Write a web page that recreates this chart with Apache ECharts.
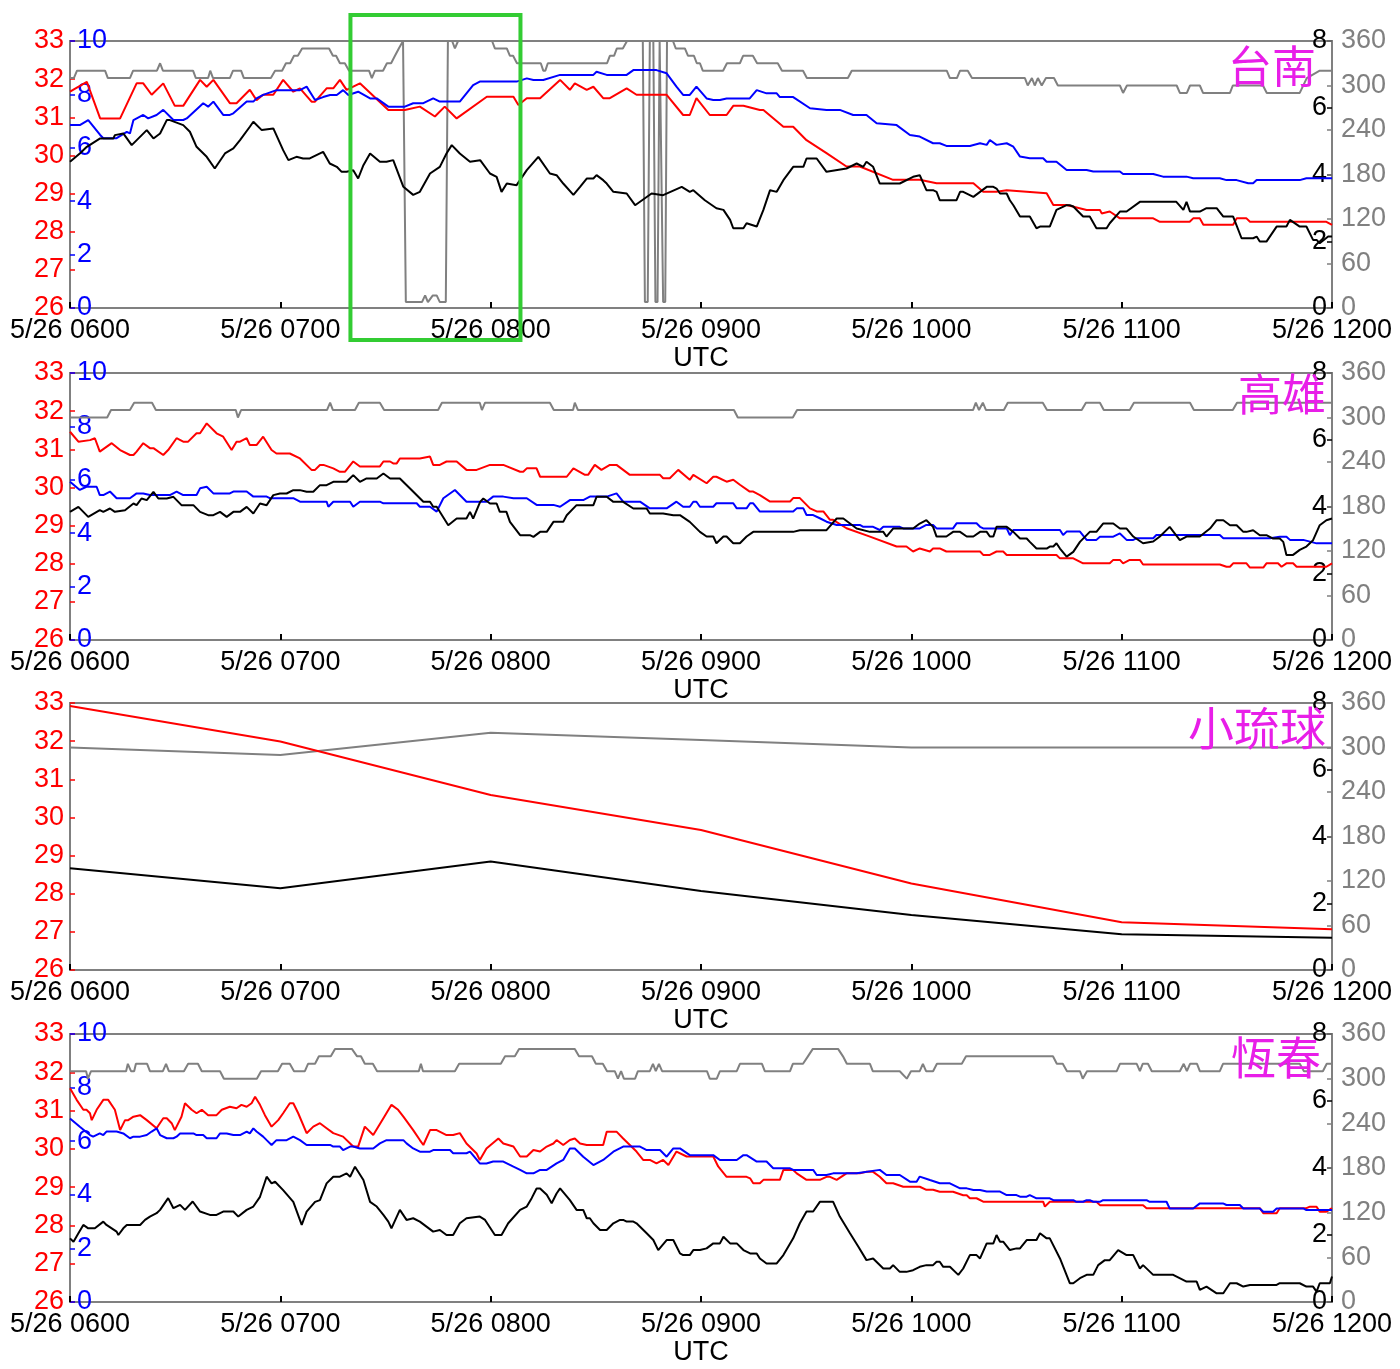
<!DOCTYPE html>
<html>
<head>
<meta charset="utf-8">
<script src="https://cdn.jsdelivr.net/npm/echarts/dist/echarts.min.js"></script>
<style>
  html, body { margin: 0; padding: 0; background: #ffffff; }
  #chart { width: 1400px; height: 1369px; }
</style>
</head>
<body>
<div id="chart"></div>
<script>
// Time is in minutes after 5/26 0600 UTC.
const tickLabels = ['5/26 0600', '5/26 0700', '5/26 0800', '5/26 0900', '5/26 1000', '5/26 1100', '5/26 1200'];
const stationNames = ['台南', '高雄', '小琉球', '恆春'];
// Time window outlined in green on the first station.
const highlightWindow = [80, 128.5];

// ---- 台南 ----
const tainanTemp = [[0,31.67],[4.8,31.93],[8.6,30.97],[14.3,30.97],[19,31.89],[20.9,31.89],[23.3,31.59],[26.6,31.89],[29.9,31.3],[32.3,31.3],[37.1,31.98],[39,31.8],[40.9,31.98],[45.6,31.37],[47.5,31.37],[51.3,31.72],[53.2,31.45],[55.1,31.59],[58,31.59],[60.8,31.98],[63.7,31.67],[65.6,31.76],[68.9,31.41],[69.9,31.41],[73.2,31.76],[75.1,31.76],[77,31.98],[78.9,31.72],[82.7,31.89],[90.8,31.19],[95.5,31.19],[99.8,31.28],[104.1,31.02],[106.9,31.28],[110.3,30.97],[118.9,31.54],[126.5,31.54],[127.9,31.32],[130.3,31.5],[134.1,31.5],[139.8,31.98],[142.6,31.72],[144,31.89],[147.4,31.72],[149.3,31.8],[152.1,31.5],[154,31.5],[158.8,31.76],[161.6,31.59],[170.2,31.59],[174.9,31.06],[176.8,31.06],[178.7,31.5],[182.5,31.06],[187.3,31.06],[189.2,31.3],[192.1,31.3],[196.8,31.19],[197.8,31.19],[203.5,30.75],[206.3,30.75],[210.1,30.4],[215.8,30.06],[221.5,29.71],[225.3,29.71],[234.8,29.36],[242.4,29.36],[247.2,29.27],[257.7,29.27],[260.5,29.05],[264.3,29.05],[267.2,29.09],[278.6,29.01],[280.5,28.7],[284.3,28.7],[290,28.57],[293.8,28.57],[294.3,28.48],[296.6,28.53],[299.5,28.35],[309,28.35],[310.9,28.26],[319.4,28.26],[320.4,28.35],[322.3,28.35],[323.3,28.18],[331.8,28.18],[332.8,28.35],[335.6,28.35],[336.6,28.26],[358.4,28.26],[360,28.18]];
const tainanAux = [[0,6.85],[2.8,6.85],[5.2,7.04],[8.6,6.48],[9.5,6.36],[13.3,6.36],[16.2,6.6],[17.1,6.54],[18.1,7.04],[20.9,7.23],[22.3,7.1],[24.7,7.23],[26.6,7.42],[29.5,7.04],[32.3,7.04],[33.3,7.1],[38,7.67],[39.4,7.54],[40.9,7.73],[43.7,7.23],[45.6,7.23],[46.6,7.29],[50.4,7.73],[52.3,7.73],[53.2,7.85],[55.1,7.98],[58.9,8.16],[65.6,8.16],[67.5,8.29],[69.9,7.79],[72.2,7.9],[74.2,7.98],[76.1,7.98],[77.9,8.16],[79.4,7.98],[82.2,8.1],[85.6,7.85],[87.5,7.85],[90.8,7.54],[95.5,7.54],[97.9,7.67],[100.8,7.67],[103.6,7.85],[105.5,7.73],[111.2,7.73],[115,8.35],[116.9,8.48],[127.4,8.48],[130.3,8.6],[132.2,8.54],[135,8.54],[139.8,8.73],[149.3,8.73],[150.2,8.85],[153.1,8.73],[158.8,8.73],[160.7,8.91],[167.3,8.91],[170.2,8.79],[173,8.29],[174.9,7.98],[176.8,7.98],[178.7,8.29],[181.6,7.85],[183.5,7.79],[185.4,7.79],[187.3,7.85],[193.9,7.85],[195.9,8.16],[198.7,8.04],[201.6,8.04],[202.5,7.9],[206.3,7.9],[211.1,7.48],[215.8,7.42],[219.6,7.42],[223.4,7.23],[227.2,7.23],[230.1,6.92],[235.8,6.85],[239.6,6.48],[242.4,6.42],[246.2,6.17],[248.1,6.17],[250,6.07],[256.7,6.07],[259.6,6.17],[261.5,6.11],[262.4,6.29],[264.3,6.11],[267.2,6.17],[269.1,6.04],[271,5.67],[273.8,5.61],[277.6,5.61],[278.6,5.48],[281.4,5.48],[284.3,5.17],[290,5.17],[291.9,5.11],[299.5,5.11],[300.4,5.02],[309,5.02],[311.8,4.92],[318.5,4.92],[320.4,4.86],[328,4.86],[329.9,4.79],[332.8,4.79],[336.1,4.67],[337.5,4.67],[338.5,4.79],[350.8,4.79],[352.7,4.86],[360,4.86]];
const tainanWind = [[0,4.38],[2.8,4.63],[4.8,4.83],[8.6,5.08],[12.4,5.08],[12.8,5.18],[15.2,5.23],[17.6,4.88],[18.1,4.93],[21.9,5.33],[23.8,5.08],[25.7,5.23],[27.6,5.63],[28.5,5.63],[32.3,5.48],[34.2,5.28],[36.1,4.83],[39,4.53],[41.3,4.18],[44.2,4.63],[46.6,4.78],[48.5,5.03],[51.3,5.43],[52.3,5.58],[54.7,5.33],[58,5.38],[60.8,4.73],[62.3,4.43],[64.6,4.53],[66.5,4.48],[68.4,4.48],[72.2,4.68],[74.1,4.33],[76.1,4.23],[77.5,4.08],[78.9,4.08],[80.8,4.13],[82.2,3.88],[83.7,4.28],[85.6,4.63],[88.4,4.38],[90.3,4.38],[92.2,4.43],[95.1,3.63],[97.9,3.39],[99.8,3.48],[102.7,4.03],[105.5,4.23],[107.4,4.63],[108.9,4.88],[111.2,4.63],[114.1,4.38],[117,4.43],[119.8,4.03],[121.7,3.93],[123.1,3.48],[124.6,3.73],[127.4,3.68],[130.3,4.13],[133.6,4.53],[136.9,4.03],[138.8,3.98],[140.7,3.73],[143.6,3.39],[145.5,3.63],[147.4,3.88],[149.3,3.88],[150.2,3.98],[152.1,3.83],[153.1,3.73],[155,3.48],[158.8,3.43],[161.2,3.08],[165.9,3.43],[169.2,3.38],[174.5,3.63],[176.8,3.48],[177.8,3.53],[181.1,3.23],[184.4,2.99],[186.4,2.94],[188.3,2.64],[189.2,2.39],[192.1,2.39],[193,2.54],[195.9,2.44],[197.8,2.94],[199.7,3.53],[201.6,3.48],[203.5,3.83],[206.3,4.23],[209.2,4.23],[210.1,4.48],[213,4.48],[215.8,4.08],[221.5,4.18],[224.4,4.33],[226.3,4.23],[227.2,4.38],[229.1,4.23],[231,3.73],[236.7,3.73],[240.5,3.93],[242.4,3.98],[244.3,3.53],[246.2,3.53],[247.2,3.48],[248.1,3.23],[252.9,3.23],[253.9,3.48],[254.8,3.48],[257.7,3.33],[261.5,3.63],[263.4,3.63],[264.3,3.58],[265.3,3.43],[267.2,3.43],[268.1,3.23],[269.1,3.08],[271,2.74],[273.8,2.74],[275.7,2.39],[276.7,2.44],[279.5,2.44],[281.4,2.94],[284.3,3.08],[285.2,3.08],[286.2,3.04],[289,2.74],[290.9,2.74],[292.8,2.39],[295.7,2.39],[296.6,2.54],[299.5,2.89],[301.4,2.89],[305.2,3.18],[315.6,3.18],[317.6,2.94],[318.5,3.18],[319.5,2.89],[322.3,2.89],[324.2,2.99],[327.1,2.99],[329,2.74],[331.8,2.74],[334.2,2.09],[337.5,2.09],[338.5,2.14],[339.4,1.99],[341.3,1.99],[344.2,2.44],[347,2.44],[348,2.64],[350.8,2.44],[352.7,2.44],[354.6,2.04],[355.6,2.04],[356.5,1.94],[358.9,2.14],[360,2.14]];
const tainanDir = [[0,310],[1.1,310],[2,320],[10,320],[10.8,310],[17.1,310],[18,320],[24.8,320],[25.7,330],[26.5,320],[35.1,320],[35.9,310],[39.4,310],[40,320],[40.8,310],[45.6,310],[46.5,320],[48.8,320],[49.6,310],[57.3,310],[58.5,320],[60.5,320],[61.6,330],[62.8,330],[63.9,340],[65,340],[66.2,350],[73.9,350],[75,340],[75.9,340],[77,330],[78.4,330],[79.6,320],[85.3,320],[86.1,310],[87,320],[89.3,320],[90.4,330],[91.6,330],[92.7,340],[93.8,350],[95,360],[95.8,8],[100.4,8],[101.3,17],[102.1,8],[103.5,17],[104.6,17],[105.5,8],[107.2,8],[107.8,360],[109,360],[109.8,350],[110.7,360],[120.4,360],[121.2,350],[124.6,350],[125.5,340],[126.4,340],[127.5,330],[134.3,330],[135,320],[135.6,320],[136.3,330],[153.2,330],[154,340],[155.2,340],[156,350],[157.7,350],[158.9,360],[163.4,360],[164,8],[164.8,8],[165.4,360],[166.4,360],[167,8],[167.6,8],[168.2,360],[168.7,360],[169.2,8],[169.8,8],[170.3,360],[172,360],[172.8,350],[175.4,350],[176.3,340],[178,340],[178.8,330],[179.7,330],[180.5,320],[186.3,320],[187.4,330],[191.1,330],[192,340],[194.8,340],[196,330],[201.9,330],[203.1,320],[209.1,320],[210.2,310],[221.9,310],[223,320],[250.1,320],[251,310],[253,310],[253.9,320],[256.1,320],[257.3,310],[272.4,310],[273.2,300],[274.4,310],[275.2,300],[276.1,310],[277.2,300],[278.4,310],[280.7,310],[281.8,300],[299.5,300],[300.4,290],[301.5,300],[315.7,300],[316.6,290],[318.6,290],[319.5,300],[322.3,300],[323.2,290],[330.9,290],[331.7,300],[340.3,300],[341.4,290],[350.8,290],[352.8,310],[356.5,320],[360,320]];

// ---- 高雄 ----
const kaohsiungTemp = [[0,31.46],[2.4,31.2],[5.7,31.24],[7.1,31.29],[8.5,30.94],[11.9,31.16],[14.3,30.98],[17.1,30.85],[18.1,30.85],[19,30.94],[20.9,31.16],[22.8,31.03],[23.8,31.03],[26.6,30.85],[28,30.98],[30.4,31.29],[32.3,31.2],[33.7,31.2],[36.1,31.42],[37.1,31.42],[39,31.68],[41.8,31.42],[43.7,31.33],[46.1,30.98],[47.5,31.2],[48.5,31.2],[50.4,31.29],[51.3,31.11],[53.2,31.11],[55.1,31.33],[57.5,30.98],[58.9,30.89],[62.7,30.89],[65.6,30.76],[68.9,30.46],[69.9,30.46],[71.3,30.59],[72.3,30.59],[75.1,30.5],[77,30.41],[78.4,30.41],[80.8,30.68],[82.7,30.55],[88.4,30.55],[89.4,30.68],[91.3,30.68],[92.2,30.63],[93.2,30.63],[94.1,30.76],[99.8,30.76],[102.7,30.81],[103.6,30.59],[105.5,30.59],[107.4,30.68],[110.3,30.68],[113.1,30.46],[116,30.46],[119.8,30.59],[123.6,30.59],[128.4,30.41],[129.3,30.41],[130.3,30.5],[133.1,30.5],[134.1,30.28],[141.7,30.28],[143.6,30.5],[146.9,30.33],[147.8,30.33],[149.7,30.59],[150.2,30.59],[151.6,30.46],[154,30.59],[155.9,30.59],[159.7,30.33],[168.3,30.33],[169.2,30.24],[171.1,30.24],[173.5,30.46],[176.8,30.2],[177.8,30.33],[181.6,30.11],[183.5,30.28],[184.4,30.28],[187.3,30.15],[189.2,30.2],[191.1,30.07],[193.9,29.89],[194.9,29.89],[196.8,29.8],[199.7,29.63],[205.4,29.63],[206.3,29.72],[208.2,29.72],[211.1,29.45],[213,29.37],[214.9,29.37],[216.8,29.15],[217.7,29.15],[221.5,28.93],[228.2,28.71],[235.8,28.45],[238.6,28.45],[240.5,28.32],[242.4,28.4],[245.3,28.32],[246.2,28.4],[248.1,28.4],[250,28.32],[259.6,28.32],[260.5,28.23],[262.4,28.23],[264.3,28.32],[266.2,28.32],[267.2,28.23],[281.4,28.23],[282.4,28.14],[286.2,28.14],[289,28.01],[296.6,28.01],[297.6,28.1],[299.5,28.1],[300.4,28.01],[302.3,28.1],[305.2,28.1],[306.1,27.98],[328,27.98],[329.9,27.92],[330.9,27.92],[331.8,28.01],[335.6,28.01],[336.6,27.9],[340.4,27.9],[341.3,28.01],[344.6,28.01],[345.6,27.92],[347,28.01],[348.9,28.01],[349.9,27.92],[358.4,27.92],[360,28.01]];
const kaohsiungAux = [[0,5.93],[2.8,5.62],[4.7,5.74],[7.6,5.74],[8.5,5.43],[9.5,5.43],[11.4,5.56],[13.3,5.31],[17.1,5.31],[19,5.49],[20.9,5.49],[22.8,5.43],[28.5,5.43],[30.4,5.56],[32.3,5.43],[36.1,5.43],[37.1,5.68],[39,5.74],[40.9,5.49],[45.6,5.49],[46.6,5.56],[50.4,5.56],[52.3,5.37],[56.1,5.37],[57,5.31],[63.7,5.31],[65.6,5.18],[73.2,5.18],[73.7,4.99],[75.1,5.18],[79.9,5.18],[80.8,4.99],[82.7,5.18],[88.4,5.18],[89.4,5.12],[98.9,5.12],[99.8,4.99],[102.7,4.99],[104.6,4.81],[106.5,5.31],[109.8,5.62],[113.1,5.18],[118.8,5.18],[120.7,5.37],[123.6,5.37],[126.5,5.31],[130.3,5.31],[133.1,5.06],[137.9,5.06],[139.8,4.99],[142.6,5.24],[146.4,5.24],[148.3,5.37],[153.1,5.37],[155.9,5.49],[157.8,5.18],[162.6,5.18],[165.4,4.93],[170.2,4.93],[173,5.18],[174.9,4.99],[176.8,4.99],[177.8,5.18],[178.7,5.18],[179.7,4.99],[183.5,4.99],[184.4,5.12],[189.2,5.12],[190.2,4.93],[193,4.93],[194,5.12],[194.9,5.12],[196.8,4.81],[206.3,4.81],[207.3,4.93],[209.2,4.93],[210.1,4.68],[212,4.68],[213.9,4.56],[215.8,4.43],[218.7,4.31],[225.3,4.31],[226.3,4.24],[229.1,4.24],[231,4.12],[232,4.24],[236.7,4.24],[237.7,4.18],[242.4,4.18],[244.3,4.31],[246.2,4.31],[247.2,4.18],[251.9,4.18],[252.9,4.37],[258.6,4.37],[259.6,4.24],[260.5,4.18],[267.2,4.18],[268.1,3.93],[269.1,4.12],[282.4,4.12],[283.3,3.93],[284.3,4.06],[288.1,4.06],[290,3.75],[292.8,3.75],[293.8,3.87],[297.6,3.87],[299.5,3.99],[301.4,3.75],[303.3,3.75],[304.2,3.81],[309,3.81],[309.9,3.93],[328,3.93],[329,3.81],[342.3,3.81],[345.1,3.87],[347,3.87],[348,3.75],[351.8,3.75],[355.6,3.62],[360,3.62]];
const kaohsiungWind = [[0,3.84],[2.4,3.99],[5.2,3.69],[8.5,3.89],[9.5,3.84],[11.4,3.94],[12.8,3.84],[15.7,3.89],[18.1,4.09],[19,4.04],[20.4,4.24],[21.9,4.19],[23.8,4.44],[25.2,4.24],[27.6,4.24],[29.5,4.29],[31.8,4.04],[35.2,4.04],[37.1,3.84],[39.4,3.74],[40.9,3.74],[42.8,3.84],[44.7,3.69],[46.6,3.84],[48.5,3.84],[50.4,3.99],[52.3,3.79],[54.2,4.09],[56.1,4.04],[58,4.34],[59.9,4.39],[61.8,4.39],[63.7,4.49],[65.6,4.49],[67.5,4.44],[69.4,4.44],[71.3,4.64],[73.2,4.64],[75.1,4.74],[78.9,4.74],[80.8,4.94],[82.7,4.74],[84.6,4.84],[87.5,4.84],[89.4,4.99],[91.3,4.84],[94.1,4.84],[97,4.54],[100.8,4.14],[102.7,4.14],[103.6,3.99],[104.6,3.99],[107.9,3.44],[110.3,3.64],[113.1,3.64],[114.1,3.84],[115,3.64],[117,4.14],[117.9,4.24],[119.8,4.09],[121.7,4.09],[122.6,3.84],[124.5,3.84],[125.5,3.54],[128.4,3.14],[131.2,3.14],[132.2,3.09],[134.1,3.24],[136,3.24],[137.9,3.54],[140.7,3.54],[141.7,3.74],[144.5,4.04],[149.3,4.04],[150.2,4.29],[153.1,4.29],[155,4.14],[157.8,4.14],[160.7,3.94],[164.5,3.94],[165.4,3.79],[169.2,3.79],[172.1,3.74],[174,3.74],[176.8,3.54],[179.7,3.24],[181.6,3.1],[183.5,3.1],[184.4,2.9],[186.4,3.1],[187.3,3.1],[189.2,2.9],[191.1,2.9],[193,3.1],[194.9,3.24],[206.3,3.24],[208.2,3.29],[215.8,3.29],[218.7,3.64],[220.6,3.64],[222.5,3.49],[224.4,3.34],[228.2,3.24],[232,3.24],[232.9,3.1],[234.8,3.34],[240.5,3.34],[242.4,3.49],[244.3,3.59],[246.2,3.39],[247.2,3.1],[250,3.1],[251.9,3.24],[253.9,3.24],[255.8,3.1],[257.7,3.1],[259.6,3.24],[261.5,3.24],[262.4,3.1],[263.4,3.1],[264.3,3.39],[267.2,3.39],[269.1,3.24],[271,3.04],[272.9,3.04],[273.8,2.94],[275.7,2.74],[278.6,2.74],[279.5,2.8],[280.5,2.8],[281.4,2.9],[282.4,2.74],[284.3,2.5],[286.2,2.64],[288.1,2.94],[290.9,3.24],[292.8,3.24],[294.7,3.49],[297.6,3.49],[299.5,3.34],[301.4,3.34],[303.3,3.1],[306.1,2.9],[309,2.95],[310.9,3.1],[313.7,3.39],[316.6,2.99],[318.5,3.1],[322.3,3.1],[325.2,3.34],[327.1,3.59],[329,3.59],[330.9,3.44],[332.8,3.44],[334.7,3.24],[335.6,3.24],[337.5,3.29],[339.4,3.14],[341.3,3.14],[343.2,3.04],[345.1,3.04],[346.1,2.94],[347,2.55],[348.9,2.55],[350.8,2.7],[352.7,2.8],[354.6,2.99],[356.5,3.44],[358.4,3.59],[360,3.64]];
const kaohsiungDir = [[0,300],[10.6,300],[11.7,310],[17.1,310],[18.3,320],[23.4,320],[24.5,310],[47.3,310],[47.9,300],[48.8,310],[73.3,310],[74.2,320],[75,310],[81.3,310],[82.4,320],[88.4,320],[89.6,310],[105,310],[106.1,320],[116.9,320],[117.5,310],[118.4,320],[136.9,320],[138,310],[143.5,310],[144,320],[144.9,310],[189.4,310],[190.5,300],[206.2,300],[207.4,310],[257.6,310],[258.4,320],[259.3,310],[260.4,320],[261.3,310],[266.4,310],[267.5,320],[277.5,320],[278.7,310],[288.6,310],[289.8,320],[293.8,320],[294.9,310],[302.3,310],[303.5,320],[319.5,320],[320.6,310],[331.7,310],[332.9,320],[360,320]];

// ---- 小琉球 (hourly) ----
const xiaoliuqiuTemp = [[0,32.92],[60,31.99],[120,30.59],[180,29.67],[240,28.27],[300,27.25],[360,27.07]];
const xiaoliuqiuWind = [[0,3.05],[60,2.45],[120,3.25],[180,2.37],[240,1.65],[300,1.07],[360,0.97]];
const xiaoliuqiuDir = [[0,300],[60,290],[120,320],[180,310],[240,300],[300,300],[360,300]];

// ---- 恆春 ----
const hengchunTemp = [[0,31.58],[1.9,31.28],[3.8,31.02],[4.7,31.02],[5.7,30.93],[6.2,30.75],[7.6,31.02],[9.5,31.28],[10.9,31.28],[12.8,31.02],[14.3,30.49],[15.7,30.75],[16.6,30.75],[18.1,30.84],[20,30.88],[21.9,30.75],[24.7,30.54],[26.6,30.8],[27.6,30.8],[29,30.67],[29.9,30.49],[31.8,30.84],[32.8,31.19],[34.7,31.02],[36.1,30.93],[37.6,31.02],[39.4,30.88],[41.8,30.88],[43.3,31.02],[45.6,31.1],[47.5,31.06],[48.9,31.15],[50.4,31.1],[51.8,31.19],[52.8,31.36],[54.2,31.15],[55.6,30.88],[57.5,30.58],[59.4,30.75],[60.8,30.93],[62.7,31.19],[63.7,31.19],[65.1,30.93],[67.5,30.41],[69.4,30.58],[71.3,30.67],[73.2,30.54],[75.1,30.41],[77.9,30.32],[80.8,30.06],[82.2,30.06],[84.1,30.58],[86.5,30.36],[89.4,30.8],[91.7,31.15],[93.6,31.02],[95.1,30.84],[97.9,30.49],[99.8,30.23],[100.8,30.1],[102.7,30.49],[104.6,30.49],[107.4,30.36],[109.3,30.36],[111.2,30.41],[113.1,30.14],[116,29.88],[116.9,29.71],[118.8,30.01],[122.2,30.27],[123.6,30.14],[126.5,30.06],[128.4,29.8],[130.3,29.8],[132.2,29.97],[134.1,29.93],[136,30.06],[137.9,30.14],[138.8,30.23],[140.7,30.1],[142.6,30.23],[144,30.27],[145.5,30.14],[147.4,30.1],[152.1,30.1],[153.1,30.45],[155.9,30.45],[157.8,30.27],[159.7,30.1],[161.6,29.93],[163.5,29.71],[165.4,29.71],[167.3,29.62],[169.2,29.71],[170.7,29.58],[173,29.93],[175.9,29.8],[183.5,29.8],[184.9,29.54],[187.3,29.27],[193,29.27],[194,29.23],[194.9,29.1],[196.8,29.1],[197.8,29.19],[202.5,29.19],[203.5,29.45],[206.3,29.45],[207.3,29.36],[210.1,29.19],[213.9,29.19],[215.8,29.27],[216.8,29.27],[218.7,29.19],[221.5,29.36],[225.3,29.36],[227.2,29.4],[229.1,29.4],[231,29.27],[232.9,29.1],[234.8,29.1],[237.7,29.01],[242.4,29.01],[244.3,28.93],[246.2,28.93],[248.1,28.88],[251.9,28.88],[254.8,28.79],[255.8,28.79],[256.7,28.71],[258.6,28.71],[260.5,28.62],[277.6,28.62],[278.1,28.49],[279.5,28.62],[292.8,28.62],[293.8,28.53],[306.1,28.53],[307.1,28.45],[339.4,28.45],[340.4,28.32],[344.2,28.32],[345.1,28.45],[352.7,28.45],[353.7,28.49],[355.6,28.49],[356.5,28.36],[358.4,28.36],[360,28.45]];
const hengchunAux = [[0,6.85],[2.8,6.54],[5.7,6.23],[6.6,6.17],[8.5,6.29],[9.5,6.23],[10.4,6.36],[13.3,6.36],[15.2,6.29],[17.1,6.11],[18.1,6.17],[20,6.17],[21.9,6.23],[23.3,6.36],[24.7,6.48],[25.7,6.23],[27.6,6.11],[29.5,6.11],[30.4,6.17],[31.4,6.29],[35.2,6.29],[36.1,6.23],[38,6.23],[39,6.11],[41.8,6.11],[42.8,6.29],[44.7,6.29],[46.6,6.23],[48.5,6.23],[50.4,6.36],[51.3,6.29],[52.3,6.48],[53.2,6.36],[55.1,6.17],[56.1,6.04],[57.5,5.86],[58.9,6.04],[61.8,6.04],[63.7,6.17],[65.6,6.04],[67.5,5.86],[74.2,5.86],[75.1,5.8],[77,5.8],[77.9,5.67],[79.9,5.8],[80.8,5.8],[82.7,5.73],[86.5,5.73],[88.4,5.92],[90.3,6.04],[95.1,6.04],[96,5.92],[97.9,5.73],[99.8,5.61],[102.7,5.61],[103.6,5.67],[108.4,5.67],[109.3,5.55],[113.1,5.55],[114.1,5.61],[116.9,5.17],[118.8,5.17],[120.7,5.24],[123.6,5.24],[126.5,5.05],[128.4,4.93],[130.3,4.8],[132.2,4.8],[134.1,4.93],[136,4.93],[138.8,5.17],[140.7,5.3],[142.6,5.73],[144,5.73],[146.4,5.42],[149.3,5.11],[152.1,5.3],[155,5.61],[157.8,5.8],[162.6,5.8],[164.5,5.67],[168.3,5.67],[170.2,5.42],[172.1,5.73],[174,5.73],[176.8,5.48],[183.5,5.48],[185.4,5.3],[190.2,5.3],[192.1,5.48],[193,5.48],[195.9,5.24],[198.7,5.24],[200.6,4.99],[205.4,4.99],[206.3,4.93],[212,4.93],[213,4.74],[215.8,4.74],[217.7,4.8],[224.4,4.8],[231,4.93],[232.9,4.74],[236.7,4.74],[239.6,4.49],[241.5,4.49],[242.4,4.68],[245.3,4.55],[248.1,4.43],[251,4.43],[253.9,4.24],[255.8,4.24],[257.7,4.18],[259.6,4.18],[261.5,4.12],[265.3,4.12],[267.2,3.99],[270,3.99],[271,3.93],[272.9,3.93],[273.8,3.99],[275.7,3.87],[279.5,3.87],[280.5,3.8],[286.2,3.8],[287.1,3.74],[289,3.74],[290,3.8],[290.9,3.8],[291.9,3.74],[293.8,3.74],[294.7,3.8],[307.1,3.8],[308,3.74],[312.8,3.74],[313.7,3.49],[320.4,3.49],[322.3,3.68],[328.9,3.68],[329.9,3.62],[333.7,3.62],[334.7,3.49],[339.4,3.49],[340.4,3.37],[343.2,3.37],[344.2,3.49],[351.8,3.49],[352.7,3.43],[360,3.43]];
const hengchunWind = [[0,1.9],[1,1.8],[2.4,2.05],[3.8,2.3],[5.2,2.2],[7.1,2.2],[9.5,2.4],[10.4,2.3],[13.3,2.1],[13.8,2],[15.2,2.2],[16.2,2.3],[20,2.3],[21.4,2.45],[22.8,2.55],[24.7,2.65],[25.7,2.75],[28,3.1],[29.5,2.8],[31.4,2.9],[32.8,2.75],[35,3],[37.1,2.7],[39.9,2.6],[41.8,2.6],[43.7,2.7],[46.6,2.7],[48,2.55],[50.4,2.75],[52.3,2.85],[54.2,3.14],[56.1,3.74],[57.5,3.54],[58.5,3.59],[60.8,3.34],[63.7,2.99],[66.1,2.3],[67.5,2.7],[69.9,2.99],[71.3,3.04],[73.2,3.54],[75.1,3.74],[77,3.74],[78.9,3.84],[79.9,3.74],[81.3,4.04],[83.7,3.64],[85.6,2.99],[87.5,2.85],[89.4,2.6],[90.8,2.4],[91.7,2.2],[94.1,2.75],[96,2.45],[97.9,2.5],[99.8,2.4],[101.7,2.25],[103.6,2.1],[105.5,2.15],[107.4,2],[109.3,2],[111.2,2.35],[113.1,2.5],[116.9,2.55],[118.4,2.45],[118.8,2.5],[121.2,2],[123.1,2],[125,2.35],[128.4,2.75],[130.3,2.85],[131.7,3.1],[133.1,3.39],[134.1,3.39],[136,3.2],[137.4,2.95],[138.8,3.24],[139.8,3.39],[140.2,3.39],[142.6,3.04],[144.5,2.75],[146.4,2.75],[147.4,2.5],[148.3,2.5],[149.3,2.35],[151.2,2.15],[153.1,2.15],[155,2.35],[156.9,2.45],[157.8,2.45],[158.8,2.4],[160.7,2.4],[161.6,2.35],[164.5,2.05],[166.4,1.85],[167.8,1.55],[170.2,1.85],[172.1,1.85],[174,1.45],[174.9,1.4],[176.8,1.4],[177.8,1.55],[179.7,1.55],[181.6,1.6],[183.5,1.75],[185.4,1.75],[186.4,1.95],[188.3,1.75],[190.2,1.75],[192.1,1.55],[194,1.45],[195.9,1.45],[196.8,1.3],[198.7,1.15],[201.6,1.15],[203.5,1.4],[206.3,1.9],[208.2,2.35],[210.1,2.7],[212,2.7],[213.9,2.99],[217.7,2.99],[219.6,2.55],[222.5,2.05],[224.9,1.65],[227.2,1.25],[229.1,1.3],[232,1],[233.9,1],[234.8,1.1],[236.7,0.9],[238.6,0.9],[240.5,0.95],[242.4,1.05],[244.3,1.1],[246.2,1.1],[247.2,1.2],[248.1,1.2],[249.1,1.05],[251,1.05],[253.4,0.81],[254.8,1],[256.7,1.4],[258.6,1.4],[259.6,1.3],[261.5,1.75],[263.4,1.75],[264.3,2],[265.3,1.8],[266.2,1.8],[268.1,1.55],[270,1.6],[271,1.6],[272.9,1.85],[275.7,1.85],[276.7,2.05],[278.6,1.9],[279.5,1.9],[282.4,1.3],[285.2,0.56],[286.2,0.56],[288.1,0.71],[290,0.81],[291.9,0.81],[293.3,1.1],[295.2,1.25],[296.6,1.25],[299,1.55],[301.4,1.4],[303.3,1.4],[305.2,1],[306.1,1.1],[309,0.81],[314.7,0.81],[318.5,0.61],[321.4,0.61],[322.3,0.36],[324.2,0.46],[327.1,0.26],[329,0.26],[330.9,0.56],[332.8,0.56],[334.7,0.46],[336.6,0.51],[344.2,0.51],[345.1,0.56],[350.8,0.56],[352.7,0.46],[354.6,0.46],[355.6,0.31],[356.5,0.56],[359.4,0.56],[360,0.76]];
const hengchunDir = [[0,310],[4.6,310],[5.1,300],[6,310],[16,310],[16.5,320],[17.4,310],[18.3,310],[18.8,320],[22,320],[22.8,310],[26.5,310],[27.4,320],[28.2,310],[32.5,310],[33.7,320],[36.5,320],[37.6,310],[42.8,310],[43.9,300],[53.3,300],[54.5,310],[59.3,310],[60.5,320],[62.7,320],[63.9,310],[67,310],[67.9,320],[69.9,320],[71,330],[74.4,330],[75.6,340],[80.4,340],[81.9,330],[83,330],[84.1,320],[86.4,320],[87.6,310],[99.5,310],[100.1,320],[100.7,310],[109.8,310],[111,320],[122.9,320],[124.1,330],[126.9,330],[128.1,340],[144,340],[145.2,330],[148.9,330],[150,320],[152,320],[153.2,310],[155.4,310],[156.3,300],[157.2,310],[158,300],[161.2,300],[162,310],[165.4,310],[166.3,320],[167.1,310],[168,320],[168.9,310],[181.7,310],[182.5,300],[184.5,300],[185.4,310],[190.2,310],[191.1,320],[197.4,320],[198.2,310],[205.4,310],[206.2,320],[209.1,320],[210.5,330],[211.9,340],[219.1,340],[220.5,330],[221.6,320],[228.2,320],[229,310],[236.7,310],[238.7,300],[239.9,310],[242.4,310],[243.3,320],[244.2,310],[246.2,310],[247.3,320],[254.4,320],[255.6,330],[280.4,330],[281.5,320],[283.2,320],[284.4,310],[288.1,310],[288.9,300],[290.1,310],[298.6,310],[299.5,320],[304.3,320],[305.2,310],[306,320],[307.5,320],[308.6,310],[316.6,310],[317.7,320],[318.6,310],[319.5,320],[321.5,320],[322.3,310],[328,310],[328.9,320],[350.8,320],[352,310],[357.4,310],[358.5,320],[360,320]];

// ---- layout & styling ----
const FONT = 'Liberation Sans';
const FS = 27;
const RED = '#ff0000', BLUE = '#0000ff', BLACK = '#000000', GRAY = '#808080', MAGENTA = '#e81ee8';
const PLOT_LEFT = 70, PLOT_RIGHT = 68;

const panels = [
  { name: stationNames[0], top: 41,   height: 267, titleTop: 44,   titleRight: 84, titleSize: 44, temp: tainanTemp, aux: tainanAux, wind: tainanWind, dir: tainanDir },
  { name: stationNames[1], top: 373,  height: 267, titleTop: 372,  titleRight: 74, titleSize: 44, temp: kaohsiungTemp, aux: kaohsiungAux, wind: kaohsiungWind, dir: kaohsiungDir },
  { name: stationNames[2], top: 703,  height: 267, titleTop: 705,  titleRight: 74, titleSize: 46, temp: xiaoliuqiuTemp, aux: null, wind: xiaoliuqiuWind, dir: xiaoliuqiuDir },
  { name: stationNames[3], top: 1034, height: 268, titleTop: 1035, titleRight: 79, titleSize: 45, temp: hengchunTemp, aux: hengchunAux, wind: hengchunWind, dir: hengchunDir }
];

function yAxis(grid, position, min, max, interval, color, inside, margin) {
  return {
    type: 'value', gridIndex: grid, position: position, offset: 0,
    min: min, max: max, interval: interval,
    axisLine: { show: false },
    axisTick: { show: true, inside: true, length: 5, lineStyle: { color: color, width: 1.5 } },
    axisLabel: { inside: inside, margin: margin, color: color, fontSize: FS, fontFamily: FONT, showMinLabel: true, showMaxLabel: true },
    splitLine: { show: false }
  };
}

const grids = [], xAxes = [], yAxes = [], series = [], titles = [];

panels.forEach((p, i) => {
  grids.push({ left: PLOT_LEFT, right: PLOT_RIGHT, top: p.top, height: p.height, show: true,
    borderColor: GRAY, borderWidth: 2, backgroundColor: 'transparent' });

  xAxes.push({
    type: 'value', gridIndex: i, min: 0, max: 360, interval: 60,
    name: 'UTC', nameLocation: 'middle', nameGap: 35,
    nameTextStyle: { color: BLACK, fontSize: FS, fontFamily: FONT },
    axisLine: { show: false },
    axisTick: { show: true, inside: true, length: 6, lineStyle: { color: BLACK, width: 2 } },
    axisLabel: { color: BLACK, fontSize: FS, fontFamily: FONT, margin: 9,
      formatter: v => tickLabels[Math.round(v / 60)] },
    splitLine: { show: false }
  });

  const iTemp = yAxes.length;
  yAxes.push(yAxis(i, 'left', 26, 33, 1, RED, false, 6));
  let iAux = null;
  if (p.aux) { iAux = yAxes.length; yAxes.push(yAxis(i, 'left', 0, 10, 2, BLUE, true, 7)); }
  const iWind = yAxes.length; yAxes.push(yAxis(i, 'right', 0, 8, 2, BLACK, true, 5));
  const iDir = yAxes.length; yAxes.push(yAxis(i, 'right', 0, 360, 60, GRAY, false, 9));

  const line = (data, yIdx, color, z) => ({
    type: 'line', xAxisIndex: i, yAxisIndex: yIdx, data: data,
    showSymbol: false, symbol: 'none', animation: false, z: z,
    lineStyle: { color: color, width: 2 }
  });
  series.push(line(p.dir, iDir, GRAY, 2));
  series.push(line(p.temp, iTemp, RED, 3));
  if (p.aux) series.push(line(p.aux, iAux, BLUE, 4));
  series.push(line(p.wind, iWind, BLACK, 5));

  titles.push({ text: p.name, right: p.titleRight, top: p.titleTop, padding: 0,
    textStyle: { color: MAGENTA, fontSize: p.titleSize, fontWeight: 'normal', fontFamily: 'Noto Sans CJK TC' } });
});

const chart = echarts.init(document.getElementById('chart'), null, { renderer: 'canvas' });
chart.setOption({
  backgroundColor: '#ffffff',
  animation: false,
  title: titles,
  grid: grids,
  xAxis: xAxes,
  yAxis: yAxes,
  series: series
});

// Green outline around the selected time window of the first station.
const x0 = chart.convertToPixel({ xAxisIndex: 0 }, highlightWindow[0]);
const x1 = chart.convertToPixel({ xAxisIndex: 0 }, highlightWindow[1]);
chart.setOption({
  graphic: [{
    type: 'rect', z: 100,
    shape: { x: x0, y: 15, width: x1 - x0, height: 325 },
    style: { fill: 'none', stroke: '#33cc33', lineWidth: 4 }
  }]
});
</script>
</body>
</html>
